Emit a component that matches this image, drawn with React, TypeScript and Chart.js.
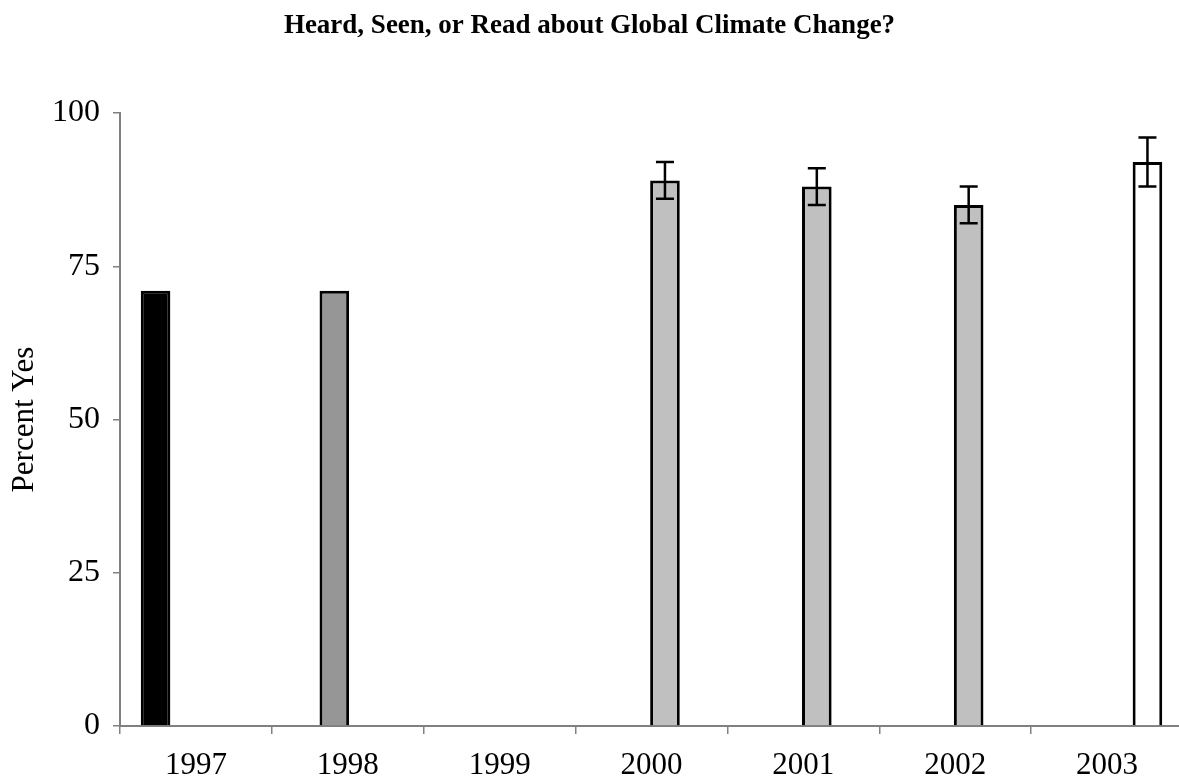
import React, { useEffect, useRef } from "react";
import { Chart, registerables } from "chart.js";

Chart.register(...registerables);

const TITLE = "Heard, Seen, or Read about Global Climate Change?";
const Y_TITLE = "Percent Yes";
const categories = ["1997", "1998", "1999", "2000", "2001", "2002", "2003"];
const yTicks = [0, 25, 50, 75, 100];

const series1997 = [71, null, null, null, null, null, null];
const series1998 = [null, 71, null, null, null, null, null];
const series2000s = [null, null, null, 89, 88, 85, null];
const series2003 = [null, null, null, null, null, null, 92];

const err1997 = [null, null, null, null, null, null, null];
const err1998 = [null, null, null, null, null, null, null];
const err2000s = [null, null, null, 3, 3, 3, null];
const err2003 = [null, null, null, null, null, null, 4];

const errors = [err1997, err1998, err2000s, err2003];

const FONT = "'Liberation Serif', 'Times New Roman', serif";

const errorBarPlugin = {
  id: "errorBars",
  afterDatasetsDraw(chart: any) {
    const ctx = chart.ctx;
    const yScale = chart.scales.y;
    ctx.save();
    ctx.strokeStyle = "#000";
    ctx.lineWidth = 2.5;
    chart.data.datasets.forEach((ds: any, di: number) => {
      const meta = chart.getDatasetMeta(di);
      const errs = errors[di];
      meta.data.forEach((bar: any, i: number) => {
        const v = ds.data[i];
        const e = errs[i];
        if (v == null || e == null) return;
        const x = bar.x;
        const yTop = yScale.getPixelForValue(v + e);
        const yBot = yScale.getPixelForValue(v - e);
        const cap = 9;
        ctx.beginPath();
        ctx.moveTo(x, yTop);
        ctx.lineTo(x, yBot);
        ctx.moveTo(x - cap, yTop);
        ctx.lineTo(x + cap, yTop);
        ctx.moveTo(x - cap, yBot);
        ctx.lineTo(x + cap, yBot);
        ctx.stroke();
      });
    });
    ctx.restore();
  },
};

const titlePlugin = {
  id: "customTitle",
  afterDraw(chart: any) {
    const ctx = chart.ctx;
    ctx.save();
    ctx.fillStyle = "#000";
    ctx.font = `bold 27px ${FONT}`;
    ctx.textAlign = "center";
    ctx.textBaseline = "alphabetic";
    ctx.fillText(TITLE, 589.5, 33);
    ctx.restore();
  },
};

export default function App() {
  const ref = useRef<HTMLCanvasElement | null>(null);

  useEffect(() => {
    if (!ref.current) return;
    const barStyle = { borderColor: "#000000", borderWidth: 3, borderSkipped: "start" as const };
    const chart = new Chart(ref.current, {
      type: "bar",
      data: {
        labels: categories,
        datasets: [
          { data: series1997, backgroundColor: "#000000", ...barStyle },
          { data: series1998, backgroundColor: "#969696", ...barStyle },
          { data: series2000s, backgroundColor: "#c0c0c0", ...barStyle },
          { data: series2003, backgroundColor: "#ffffff", ...barStyle },
        ],
      },
      options: {
        animation: false,
        responsive: false,
        maintainAspectRatio: false,
        layout: { padding: { top: 113, right: 0, left: 0, bottom: 0 } },
        datasets: { bar: { categoryPercentage: 0.709, barPercentage: 1.1 } },
        plugins: { legend: { display: false }, tooltip: { enabled: false }, title: { display: false } },
        scales: {
          x: {
            z: 1,
            grid: { offset: true, drawOnChartArea: false, drawTicks: true, tickLength: 8, color: "#808080", lineWidth: 1.5 },
            border: { display: true, color: "#808080", width: 2 },
            ticks: { color: "#000", font: { family: FONT, size: 31 }, padding: 13, maxRotation: 0 },
            afterFit: (s: any) => { s.height = 55; },
          },
          y: {
            min: 0,
            max: 100,
            afterBuildTicks: (s: any) => { s.ticks = yTicks.map((v) => ({ value: v })); },
            grid: { drawOnChartArea: false, drawTicks: true, tickLength: 7, color: "#808080", lineWidth: 1.5 },
            border: { display: true, color: "#808080", width: 2 },
            ticks: { color: "#000", font: { family: FONT, size: 32 }, padding: 13 },
            title: { display: true, text: Y_TITLE, color: "#000", font: { family: FONT, size: 31 }, padding: { top: 6, bottom: 0 } },
            afterFit: (s: any) => { s.width = 120; },
          },
        },
      },
      plugins: [errorBarPlugin, titlePlugin],
    });
    return () => chart.destroy();
  }, []);

  return (
    <div style={{ position: "fixed", left: 0, top: 0, width: 1179, height: 781, overflow: "hidden", background: "#fff" }}>
      <canvas ref={ref} width={1183} height={781} style={{ display: "block", width: 1183, height: 781 }} />
    </div>
  );
}
